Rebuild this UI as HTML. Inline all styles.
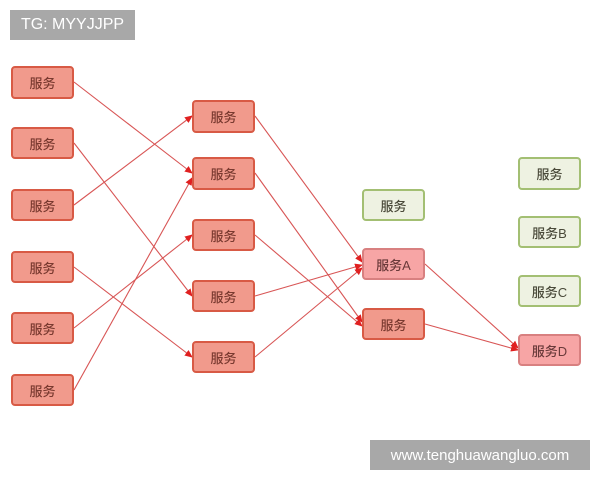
<!DOCTYPE html>
<html><head><meta charset="utf-8"><style>
body{margin:0;width:600px;height:480px;background:#fff;overflow:hidden;position:relative;font-family:"Liberation Sans","Noto Sans CJK SC",sans-serif}
.b{position:absolute;width:60px;height:30px;border-radius:4px;box-sizing:border-box;display:flex;align-items:center;justify-content:center;font-size:13px;font-weight:500}
.r{background:#f19a8c;border:2px solid #d85a45;color:#7a3a30}
.p{background:#f7a5a5;border:2px solid #d88080;color:#6a3a3a}
.g{background:#eef2e2;border:2px solid #a3bf73;color:#4a4a3a}
.wm{position:absolute;background:#a8a8a8;color:#fff;font-size:16px;display:flex;align-items:center;justify-content:center}
svg{position:absolute;left:0;top:0}
</style></head><body>
<svg width="600" height="480"><defs><marker id="a" markerWidth="8" markerHeight="8" refX="7" refY="4" orient="auto" markerUnits="userSpaceOnUse"><path d="M0,0.5L8,4L0,7.5z" fill="#e02020"/></marker></defs>
<g stroke="#d85555" stroke-width="1.1" fill="none" marker-end="url(#a)">
<line x1="74" y1="82" x2="192" y2="173"/>
<line x1="74" y1="143" x2="192" y2="296"/>
<line x1="74" y1="205" x2="192" y2="116"/>
<line x1="74" y1="267" x2="192" y2="357"/>
<line x1="74" y1="328" x2="192" y2="235"/>
<line x1="74" y1="390" x2="192" y2="178"/>
<line x1="255" y1="116" x2="362" y2="262"/>
<line x1="255" y1="173" x2="362" y2="322"/>
<line x1="255" y1="235" x2="362" y2="326"/>
<line x1="255" y1="296" x2="362" y2="265"/>
<line x1="255" y1="357" x2="362" y2="268"/>
<line x1="425" y1="264" x2="518" y2="348"/>
<line x1="425" y1="324" x2="518" y2="350"/>
</g></svg>
<div class="wm" style="left:10px;top:10px;width:125px;height:30px">TG: MYYJJPP</div>
<div class="wm" style="left:370px;top:440px;width:220px;height:30px;font-size:15px">www.tenghuawangluo.com</div>
<div class="b r" style="left:11px;top:66px;height:33px;width:63px">服务</div>
<div class="b r" style="left:11px;top:127px;height:32px;width:63px">服务</div>
<div class="b r" style="left:11px;top:189px;height:32px;width:63px">服务</div>
<div class="b r" style="left:11px;top:251px;height:32px;width:63px">服务</div>
<div class="b r" style="left:11px;top:312px;height:32px;width:63px">服务</div>
<div class="b r" style="left:11px;top:374px;height:32px;width:63px">服务</div>
<div class="b r" style="left:192px;top:100px;height:33px;width:63px">服务</div>
<div class="b r" style="left:192px;top:157px;height:33px;width:63px">服务</div>
<div class="b r" style="left:192px;top:219px;height:32px;width:63px">服务</div>
<div class="b r" style="left:192px;top:280px;height:32px;width:63px">服务</div>
<div class="b r" style="left:192px;top:341px;height:32px;width:63px">服务</div>
<div class="b g" style="left:362px;top:189px;height:32px;width:63px">服务</div>
<div class="b p" style="left:362px;top:248px;height:32px;width:63px">服务A</div>
<div class="b r" style="left:362px;top:308px;height:32px;width:63px">服务</div>
<div class="b g" style="left:518px;top:157px;height:33px;width:63px">服务</div>
<div class="b g" style="left:518px;top:216px;height:32px;width:63px">服务B</div>
<div class="b g" style="left:518px;top:275px;height:32px;width:63px">服务C</div>
<div class="b p" style="left:518px;top:334px;height:32px;width:63px">服务D</div>
</body></html>
